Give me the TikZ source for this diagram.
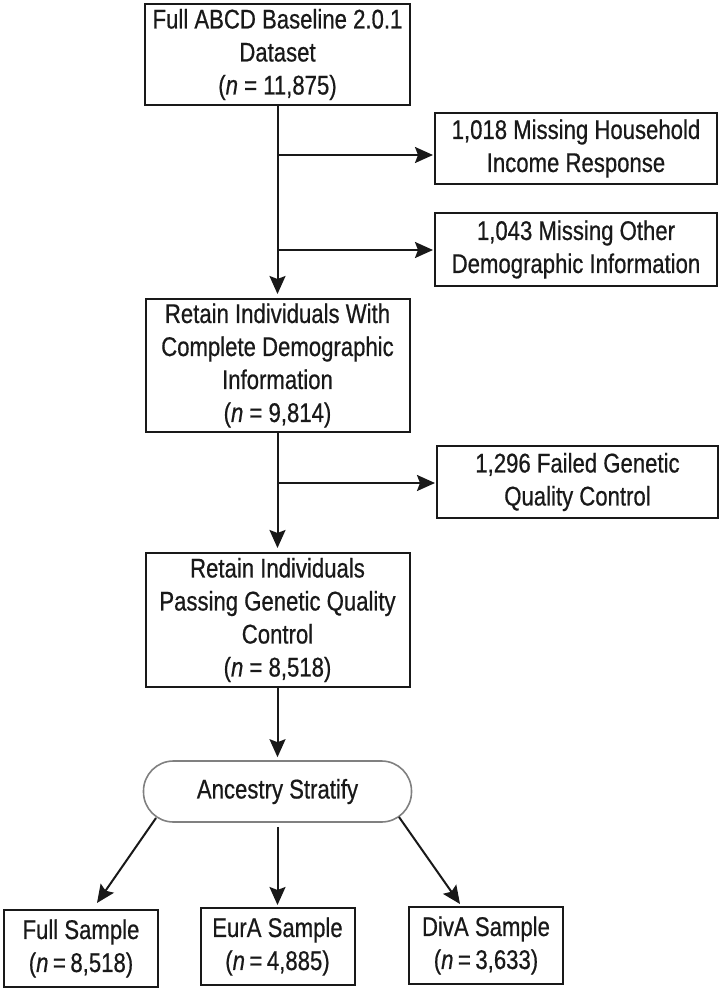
\documentclass[tikz,border=0pt]{standalone}
\usepackage{fontspec}
\setmainfont{Liberation Sans}[FakeStretch=0.82,FakeBold=0.6]
\usetikzlibrary{arrows.meta}

\begin{document}
\begin{tikzpicture}[x=1pt,y=1pt]
        \tikzstyle{every node}+=[inner sep=0pt, font=\fontsize{27}{33}\selectfont, text=black!90]
        \tikzstyle{box}=[draw=black!90, line width=2pt, align=center]
        \tikzstyle{arr}=[draw=black!90, line width=2pt, -{Stealth[length=18pt,width=16pt,inset=3pt]}]
        \useasboundingbox (0,0) rectangle (724,-991);
        \node [box, minimum width=265pt, minimum height=101pt] (abcd) at (277.5,-54.5) {Full ABCD Baseline 2.0.1\\Dataset\\(\textit{n} = 11,875)};
        \node [box, minimum width=282pt, minimum height=71pt] (income) at (576,-148.5) {1,018 Missing Household\\Income Response};
        \node [box, minimum width=282pt, minimum height=73pt] (other) at (576,-249.5) {1,043 Missing Other\\Demographic Information};
        \node [box, minimum width=264pt, minimum height=133pt] (demog) at (277.5,-365.5) {Retain Individuals With\\Complete Demographic\\Information\\(\textit{n} = 9,814)};
        \node [box, minimum width=281pt, minimum height=72pt] (failqc) at (577.5,-482) {1,296 Failed Genetic\\Quality Control};
        \node [box, minimum width=264pt, minimum height=134pt] (passqc) at (277.5,-620) {Retain Individuals\\Passing Genetic Quality\\Control\\(\textit{n} = 8,518)};
        \node [draw=black!50, line width=1.6pt, rounded corners=30pt, minimum width=268pt, minimum height=61pt] (strat) at (277.5,-791.5) {Ancestry Stratify};
        \node [box, minimum width=154pt, minimum height=77pt] (fullsmp) at (81,-948.5) {Full Sample\\(\textit{n}\,=\,8,518)};
        \node [box, minimum width=154pt, minimum height=77pt] (eursmp) at (277.5,-946.5) {EurA Sample\\(\textit{n}\,=\,4,885)};
        \node [box, minimum width=154pt, minimum height=77pt] (divsmp) at (486,-945.5) {DivA Sample\\(\textit{n}\,=\,3,633)};
        \coordinate (j1) at (277.5,-155);
        \coordinate (j2) at (277.5,-250);
        \coordinate (j3) at (277.5,-483);
        \coordinate (sl) at (156,-818);
        \coordinate (sr) at (399,-817);
        \draw [arr, shorten >=4pt] (abcd.south) -- (demog.north);
        \draw [arr, shorten >=1pt] (j1) -- (j1 -| income.west);
        \draw [arr, shorten >=1pt] (j2) -- (j2 -| other.west);
        \draw [arr, shorten >=4pt] (demog.south) -- (passqc.north);
        \draw [arr, shorten >=1pt] (j3) -- (j3 -| failqc.west);
        \draw [arr, shorten >=3pt] (passqc.south) -- (strat.north);
        \draw [arr] (sl) -- ([xshift=16pt,yshift=6pt]fullsmp.north);
        \draw [arr, shorten <=4pt, shorten >=2pt] (strat.south) -- (eursmp.north);
        \draw [arr] (sr) -- ([xshift=-26pt,yshift=2pt]divsmp.north);
\end{tikzpicture}
\end{document}
